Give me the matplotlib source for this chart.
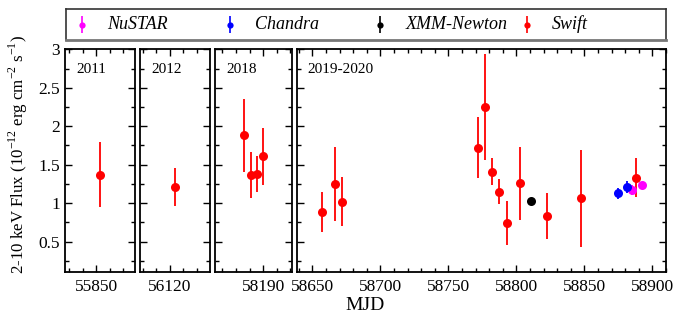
import matplotlib
matplotlib.use("Agg")
import matplotlib.pyplot as plt
from matplotlib.ticker import MultipleLocator

plt.rcParams["font.family"] = ["Liberation Serif", "DejaVu Serif"]
plt.rcParams["mathtext.fontset"] = "custom"
plt.rcParams["mathtext.rm"] = "Liberation Serif"

# Swift/XRT
swift_mjd = [55853, 56124, 58176, 58180.7, 58185.6, 58190, 58657, 58667, 58672,
             58772, 58777, 58782, 58787.5, 58793, 58802.5, 58822.6, 58847.6, 58887.7]
swift_flux = [1.37, 1.21, 1.88, 1.36, 1.38, 1.61, 0.89, 1.25, 1.02,
              1.72, 2.25, 1.41, 1.15, 0.74, 1.255, 0.83, 1.06, 1.33]
swift_err = [0.42, 0.25, 0.48, 0.30, 0.23, 0.37, 0.26, 0.48, 0.32,
             0.40, 0.69, 0.17, 0.16, 0.29, 0.48, 0.30, 0.63, 0.25]

chandra_mjd = [58875, 58881.6]
chandra_flux = [1.125, 1.21]
chandra_err = [0.07, 0.08]

nustar_mjd = [58885, 58892]
nustar_flux = [1.17, 1.23]
nustar_err = [0.07, 0.05]

xmm_mjd = [58810.5]
xmm_flux = [1.03]
xmm_err = [0.03]

panel_names = ["2011", "2012", "2018", "2019-2020"]
panel_xlims = [(55827, 55878.5), (56098, 56149.5), (58154.5, 58211), (58638.5, 58910)]
panel_major = [[55850], [56120], [58190], [58650, 58700, 58750, 58800, 58850, 58900]]

series = [
    ("NuSTAR", nustar_mjd, nustar_flux, nustar_err, "#ff00ff"),
    ("Chandra", chandra_mjd, chandra_flux, chandra_err, "#0000ff"),
    ("XMM-Newton", xmm_mjd, xmm_flux, xmm_err, "#000000"),
    ("Swift", swift_mjd, swift_flux, swift_err, "#ff0000"),
]

W, H = 686, 318
fig = plt.figure(figsize=(W / 100, H / 100), dpi=100)

# panel edges in pixels (left, right)
edges = [(65, 135), (140, 210), (215, 291.7), (296.7, 666)]
top_px, bot_px = 49.3, 272.3

axes = []
for i, (l, r) in enumerate(edges):
    ax = fig.add_axes([l / W, 1 - bot_px / H, (r - l) / W, (bot_px - top_px) / H])
    for name, x, y, e, c in series:
        ax.errorbar(x, y, yerr=e, fmt="o", color=c, ms=6.5, elinewidth=1.3,
                    capsize=0, mew=0)
    ax.set_xlim(*panel_xlims[i])
    ax.set_ylim(0.1, 3)
    ax.set_xticks(panel_major[i])
    ax.xaxis.set_minor_locator(MultipleLocator(10))
    ax.yaxis.set_major_locator(MultipleLocator(0.5))
    ax.yaxis.set_minor_locator(MultipleLocator(0.25))
    ax.tick_params(which="both", direction="in", top=True, right=True,
                   labelsize=12.5, width=1)
    ax.tick_params(which="major", length=5)
    ax.tick_params(which="minor", length=3)
    ax.tick_params(axis="x", pad=4.5)
    if i > 0:
        ax.tick_params(labelleft=False)
    else:
        ax.set_yticks([0.5, 1, 1.5, 2, 2.5, 3])
        ax.set_yticklabels(["0.5", "1", "1.5", "2", "2.5", "3"])
    for s in ax.spines.values():
        s.set_linewidth(1.3)
    ax.text(11 / (r - l), 0.91, panel_names[i], transform=ax.transAxes,
            fontsize=11, va="center", ha="left")
    axes.append(ax)

fig.text(18 / W, 1 - 154 / H,
         r"2-10 keV Flux (10$^{-12}$ erg cm$^{-2}$ s$^{-1}$)",
         rotation=90, ha="center", va="center", fontsize=12.2)
fig.text(365 / W, 1 - 305.5 / H, "MJD", ha="center", va="center", fontsize=14)

# legend box
lax = fig.add_axes([66 / W, 1 - 40 / H, 600 / W, 31 / H])
lax.set_xlim(0, 1)
lax.set_ylim(0, 1)
lax.set_xticks([])
lax.set_yticks([])
for s in lax.spines.values():
    s.set_linewidth(1.2)
    s.set_color("#333333")
lax.spines["bottom"].set_linewidth(2)
lax.spines["bottom"].set_color("#777777")
leg_x = [0.026, 0.273, 0.524, 0.768]
for (name, x, y, e, c), lx in zip(series, leg_x):
    lax.errorbar([lx], [0.5], yerr=[0.28], fmt="o", color=c, ms=4.5,
                 elinewidth=1.2, capsize=0, mew=0)
    lax.text(lx + 0.042, 0.5, name, style="italic", fontsize=13,
             va="center", ha="left")

fig.savefig("out.png", dpi=100)
